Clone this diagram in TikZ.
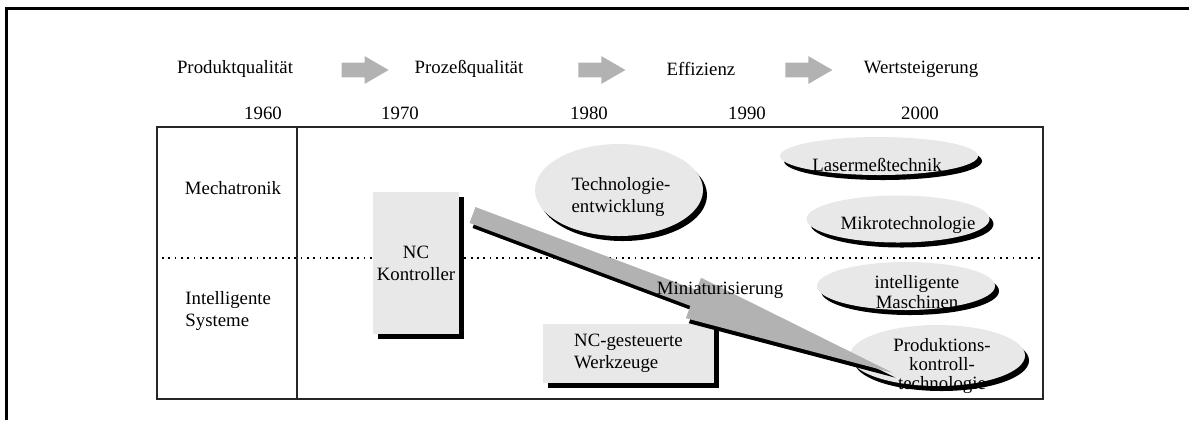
\documentclass[tikz,border=0pt]{standalone}
\usepackage{fontspec}
\setmainfont{Liberation Serif}
\usetikzlibrary{shapes.geometric,shapes.arrows,shadows,arrows.meta}

\definecolor{boxgray}{HTML}{E8E8E8}
\definecolor{arrowgray}{HTML}{B2B2B2}

\tikzset{
  txt/.style={inner sep=0, align=center, font=\fontsize{9.4}{11}\selectfont},
  slab/.style={rectangle, fill=boxgray, inner sep=0, general shadow={fill=black, shadow xshift=2.5pt, shadow yshift=-2.5pt}},
  blob/.style={ellipse, fill=boxgray, inner sep=0, general shadow={fill=black, shadow xshift=2pt, shadow yshift=-2.5pt}},
  hdrarrow/.style={single arrow, fill=arrowgray, inner sep=0, text height=3.5pt, text depth=3.5pt, minimum height=23.5pt, minimum width=13.5pt, single arrow head extend=3.25pt, single arrow tip angle=60},
}

\begin{document}
\begin{tikzpicture}[x=0.5pt, y=-0.5pt]
		\useasboundingbox (0,0) rectangle (1189,420);
		% frame and table
		\draw[line width=1.25pt] (6.5,420) -- (6.5,8.5) -- (1189,8.5);
		\draw[line width=1pt, black!85] (157,127) rectangle (1043,399);
		\draw[line width=0.9pt, dash pattern=on 0.9pt off 2.25pt] (162,258) -- (1043,258);
		\draw[line width=1.4pt, black!85] (297,127) -- (297,399);
		% header row
		\node [txt] (prodq) at (235,69) {Produktqualität};
		\node [txt] (prozq) at (469,69) {Prozeßqualität};
		\node [txt] (effiz) at (701,69) {Effizienz};
		\node [txt] (wert) at (921,69) {Wertsteigerung};
		\node [hdrarrow] (arr1) at (358.75,70) {};
		\node [hdrarrow] (arr2) at (595.5,70) {};
		\node [hdrarrow] (arr3) at (802.5,70) {};
		\node [txt] (y1960) at (263,113) {1960};
		\node [txt] (y1970) at (400,113) {1970};
		\node [txt] (y1980) at (589,113) {1980};
		\node [txt] (y1990) at (747,113) {1990};
		\node [txt] (y2000) at (920,113) {2000};
		% rows
		\node [txt] (mecha) at (233,188) {Mechatronik};
		\node [txt, align=left, anchor=west] (intsys) at (185,311) {Intelligente\\Systeme};
		% boxes
		\node [slab, txt, minimum width=43pt, minimum height=71pt] (nck) at (416,263) {NC\\Kontroller};
		\node [slab, txt, align=left, minimum width=85.5pt, minimum height=29.5pt] (ncw) at (628.5,353.5) {NC-gesteuerte\\Werkzeuge};
		% ellipses
		\node [blob, minimum width=84pt, minimum height=46pt] (tech) at (619,190) {};
		\node [blob, minimum width=99pt, minimum height=19pt] (laser) at (879,156) {};
		\node [blob, minimum width=91.5pt, minimum height=23.5pt] (mikro) at (898,219) {};
		\node [blob, minimum width=89pt, minimum height=24pt] (intma) at (906,286) {};
		\node [blob, minimum width=87.5pt, minimum height=30.5pt] (prodk) at (937.5,355.5) {};
		\node [txt, align=left] (tech-t) at (621,197) {Technologie-\\entwicklung};
		\node [txt] (laser-t) at (877,165) {Lasermeßtechnik};
		\node [txt] (mikro-t) at (908,225) {Mikrotechnologie};
		\node [txt, font=\fontsize{9.4}{10}\selectfont] (intma-t) at (917,292) {intelligente\\Maschinen};
		% big arrow
		\coordinate (minfrom) at (472.5,215);
		\coordinate (minto) at (912,380);
		\draw[black, line width=8.5pt, -{Triangle[length=116.75pt, width=19pt]}, transform canvas={xshift=1.5pt, yshift=-2.5pt}] (minfrom) -- (minto);
		\draw[arrowgray, line width=8.5pt, -{Triangle[length=116.75pt, width=19pt]}] (minfrom) -- (minto);
		\node [txt, font=\fontsize{9.4}{9.6}\selectfont] (prodk-t) at (942,366) {Produktions-\\kontroll-\\technologie};
		\node [txt] (mini) at (720,290) {Miniaturisierung};
	\end{tikzpicture}
\end{document}
